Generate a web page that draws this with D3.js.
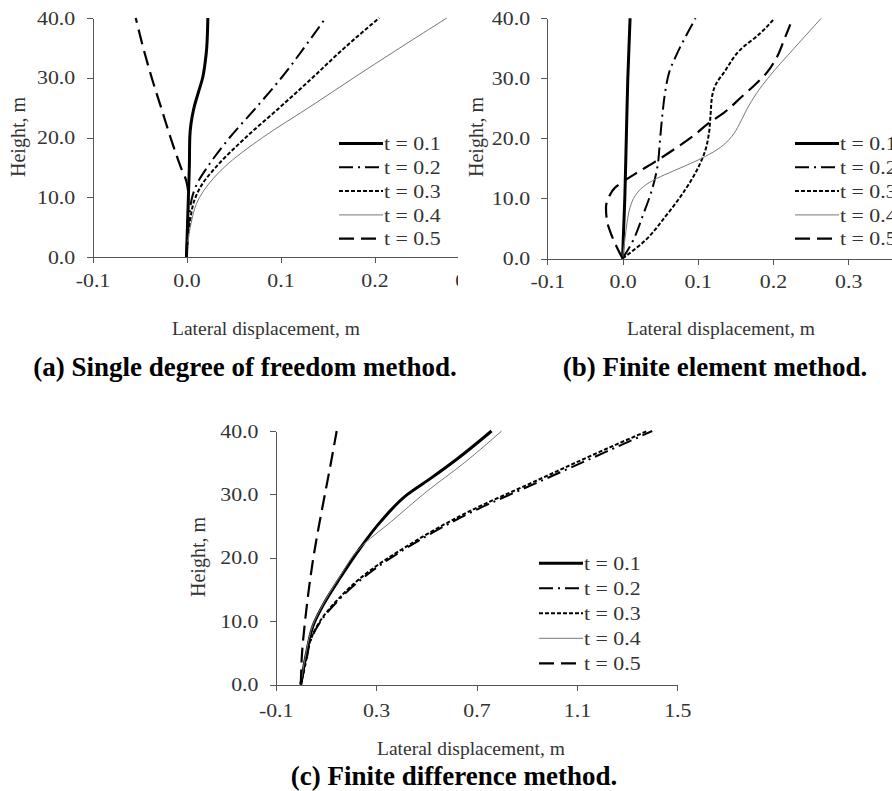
<!DOCTYPE html>
<html>
<head>
<meta charset="UTF-8">
<title>Lateral displacement profiles</title>
<script src="https://cdn.jsdelivr.net/npm/d3@7"></script>
<style>
  body { margin: 0; background: #fff; }
  svg text { font-family: "Liberation Serif", "Times New Roman", serif; fill: #333; }
  .axis path, .axis line { stroke: #555; shape-rendering: crispEdges; }
  .axis text { font-size: 19px; }
  .legend text { font-size: 19px; }
  .xtitle { font-size: 19.5px; }
  .ytitle { font-size: 20px; }
  .caption { font-size: 27px; font-weight: bold; fill: #000; }
</style>
</head>
<body>
<svg id="chart" width="892" height="791"></svg>
<script>
// ---- data: [lateral displacement (m), height (m)] ----
var seriesLabels = ["t = 0.1", "t = 0.2", "t = 0.3", "t = 0.4", "t = 0.5"];
var heightTicks = [0, 10, 20, 30, 40];
var sdofTicks = [-0.1, 0.0, 0.1, 0.2, 0.3];
var femTicks = [-0.1, 0.0, 0.1, 0.2, 0.3];
var fdmTicks = [-0.1, 0.3, 0.7, 1.1, 1.5];

// (a) single degree of freedom
var sdof01 = [[0,0],[0.001,5],[0.002,10],[0.003,15],[0.0035,20],[0.008,25],[0.0135,28],[0.0172,30],[0.0198,32.5],[0.0215,35],[0.0227,40]];
var sdof02 = [[0,0],[0.002,5],[0.006,10],[0.012,12.5],[0.022,15],[0.046,20],[0.074,25],[0.101,30],[0.125,35],[0.148,40]];
var sdof03 = [[0,0],[0.003,5],[0.0096,10],[0.018,12.5],[0.031,15],[0.063,20],[0.099,25],[0.134,30],[0.168,35],[0.205,40]];
var sdof04 = [[0,0],[0.004,5],[0.014,10],[0.025,12.5],[0.040,15],[0.081,20],[0.130,25],[0.178,30],[0.227,35],[0.277,40]];
var sdof05 = [[0,0],[0.001,5],[0.002,10],[0,12.6],[-0.006,15],[-0.017,20],[-0.027,25],[-0.037,30],[-0.046,35],[-0.054,40]];

// (b) finite element
var fem01 = [[0,0],[0.003,10],[0.005,20],[0.007,30],[0.010,40]];
var fem02 = [[0,0],[0.012,2.5],[0.028,7.5],[0.039,11.4],[0.046,15],[0.050,20],[0.053,24],[0.057,28],[0.062,31],[0.072,34],[0.084,37],[0.097,40]];
var fem03 = [[0,0],[0.030,3],[0.057,7],[0.083,11.4],[0.100,15],[0.110,18],[0.115,21],[0.117,24],[0.119,27],[0.124,29],[0.135,31],[0.156,34.7],[0.183,37.5],[0.202,40]];
var fem04 = [[0,0],[0.003,3],[0.006,6],[0.010,8.5],[0.017,10.5],[0.028,12],[0.045,13.3],[0.068,14.6],[0.090,15.8],[0.110,17],[0.130,18.5],[0.145,20.3],[0.155,22.3],[0.165,24.8],[0.178,27.5],[0.193,30],[0.228,35],[0.264,40]];
var fem05 = [[0,0],[-0.008,2],[-0.015,4],[-0.021,6.5],[-0.022,8.5],[-0.018,10.3],[-0.010,11.8],[0.003,13],[0.022,14.5],[0.043,16.1],[0.070,18.3],[0.095,20.5],[0.114,22.5],[0.135,24.3],[0.158,26.9],[0.175,28.8],[0.192,31],[0.205,33.5],[0.215,36.5],[0.223,39]];

// (c) finite difference
var fdm01 = [[0,0],[0.024,5.2],[0.050,9.4],[0.090,12.6],[0.156,16.8],[0.236,21.5],[0.318,25.7],[0.425,30.0],[0.520,32.6],[0.620,35.5],[0.760,40]];
var fdm02 = [[0,0],[0.023,4],[0.038,6.8],[0.078,9.9],[0.145,13.1],[0.280,17.8],[0.440,22],[0.680,27.2],[0.950,32],[1.215,36.7],[1.400,40]];
var fdm03 = [[0,0],[0.022,4],[0.037,6.8],[0.075,9.9],[0.140,13.1],[0.270,17.8],[0.430,22],[0.665,27.2],[0.930,32],[1.190,36.7],[1.380,40]];
var fdm04 = [[0,0],[0.022,5.2],[0.048,9.4],[0.088,12.6],[0.152,16.8],[0.234,21.5],[0.360,25.7],[0.500,30.4],[0.655,35.1],[0.800,40]];
var fdm05 = [[0,0],[0.005,5],[0.017,10],[0.032,15],[0.050,20],[0.072,25],[0.096,30],[0.120,35],[0.143,40]];

// ---- styles ----
var lineStyles = [
    {width: 3,   dash: null,        color: "#000"},
    {width: 2,   dash: "14,5,2,5",  color: "#000"},
    {width: 2,   dash: "4,2",       color: "#000"},
    {width: 1,   dash: null,        color: "#777"},
    {width: 2.2, dash: "15,7",      color: "#000"}
];
var textStretch = 1.15;   // chart texts in the source are a bit wide

var svg = d3.select("#chart");

function drawPanel(p) {
    var g = svg.append("g");
    if (p.clipRight) {
        svg.append("clipPath").attr("id", p.id + "-clip")
            .append("rect").attr("x", 0).attr("y", 0)
            .attr("width", p.clipRight).attr("height", 400);
        g.attr("clip-path", "url(#" + p.id + "-clip)");
    }

    var x = d3.scaleLinear().domain(p.xDomain).range(p.xRange);
    var y = d3.scaleLinear().domain([0, 40]).range(p.yRange);

    g.append("g")
        .attr("class", "axis")
        .attr("transform", "translate(0," + p.yRange[0] + ")")
        .call(d3.axisBottom(x).tickValues(p.xTicks)
            .tickFormat(function(d) { return d.toFixed(1); })
            .tickSize(6).tickSizeOuter(0).tickPadding(p.xPad))
        .selectAll(".tick text")
        .attr("transform", "scale(" + textStretch + ",1)");

    g.append("g")
        .attr("class", "axis")
        .attr("transform", "translate(" + p.xRange[0] + ",0)")
        .call(d3.axisLeft(y).tickValues(heightTicks)
            .tickFormat(function(d) { return d.toFixed(1); })
            .tickSize(6).tickSizeOuter(0).tickPadding(9))
        .selectAll(".tick text")
        .attr("transform", "scale(" + textStretch + ",1)");

    var line = d3.line()
        .x(function(d) { return x(d[0]); })
        .y(function(d) { return y(d[1]); })
        .curve(d3.curveMonotoneY);

    p.series.forEach(function(s, i) {
        var st = lineStyles[i];
        g.append("path")
            .datum(s)
            .attr("d", line)
            .attr("fill", "none")
            .attr("stroke", st.color)
            .attr("stroke-width", st.width)
            .attr("stroke-dasharray", st.dash);
    });

    // legend
    var lg = g.append("g").attr("class", "legend");
    seriesLabels.forEach(function(lab, i) {
        var st = lineStyles[i];
        var ly = p.legendY + i * p.legendStep;
        lg.append("line")
            .attr("x1", p.legendX).attr("x2", p.legendX + 44)
            .attr("y1", ly).attr("y2", ly)
            .attr("stroke", st.color)
            .attr("stroke-width", st.width)
            .attr("stroke-dasharray", st.dash);
        lg.append("text")
            .attr("transform", "translate(" + (p.legendX + 45) + "," + ly + ") scale(" + textStretch + ",1)")
            .attr("dy", "0.35em")
            .text(lab);
    });

    g.append("text")
        .attr("class", "ytitle")
        .attr("transform", "translate(" + p.yTitle[0] + "," + p.yTitle[1] + ") rotate(-90)")
        .attr("text-anchor", "middle")
        .attr("dy", "0.35em")
        .text("Height, m");

    svg.append("text")
        .attr("class", "xtitle")
        .attr("x", p.xTitle[0]).attr("y", p.xTitle[1])
        .attr("text-anchor", "middle")
        .text("Lateral displacement, m");

    svg.append("text")
        .attr("class", "caption")
        .attr("x", p.caption[0]).attr("y", p.caption[1])
        .attr("text-anchor", "middle")
        .text(p.captionText);
}

drawPanel({
    id: "a", clipRight: 458,
    xDomain: [-0.1, 0.3], xRange: [92.5, 468.5], yRange: [257, 18],
    xTicks: sdofTicks, xPad: 10.5,
    series: [sdof01, sdof02, sdof03, sdof04, sdof05],
    legendX: 339, legendY: 143.5, legendStep: 23.8,
    yTitle: [18, 137], xTitle: [266, 335],
    caption: [245, 376], captionText: "(a) Single degree of freedom method."
});

drawPanel({
    id: "b",
    xDomain: [-0.1, 0.4], xRange: [547.3, 923.5], yRange: [258.5, 18.3],
    xTicks: femTicks, xPad: 10.5,
    series: [fem01, fem02, fem03, fem04, fem05],
    legendX: 795, legendY: 143.5, legendStep: 23.8,
    yTitle: [476, 137], xTitle: [721, 335],
    caption: [715, 376], captionText: "(b) Finite element method."
});

drawPanel({
    id: "c",
    xDomain: [-0.1, 1.5], xRange: [275.7, 677.3], yRange: [684.5, 431],
    xTicks: fdmTicks, xPad: 13,
    series: [fdm01, fdm02, fdm03, fdm04, fdm05],
    legendX: 539, legendY: 563.3, legendStep: 25,
    yTitle: [198, 557], xTitle: [471, 755],
    caption: [454, 785], captionText: "(c) Finite difference method."
});
</script>
</body>
</html>
